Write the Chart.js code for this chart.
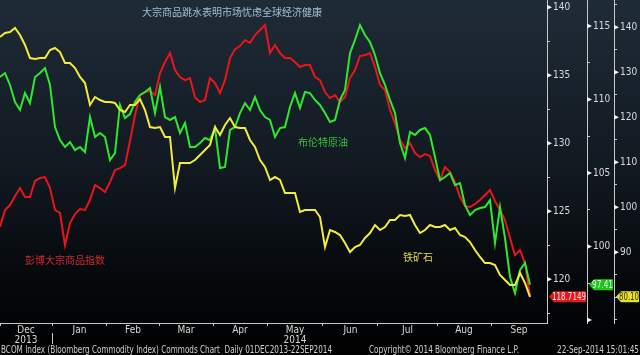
<!DOCTYPE html>
<html>
<head>
<meta charset="utf-8">
<script src="https://cdn.jsdelivr.net/npm/chart.js@4/dist/chart.umd.min.js"></script>
<style>
html,body{margin:0;padding:0;background:#000;}
canvas{display:block;}
</style>
</head>
<body>
<canvas id="c" width="640" height="355" style="width:640px;height:355px"></canvas>
<script>
// Samples: one value every two trading sessions, 2 Dec 2013 - 22 Sep 2014
const bcom = [123.85,125.10,125.46,126.13,126.71,126.05,126.05,127.23,127.45,127.52,
126.71,125.10,124.88,122.52,124.14,124.80,125.17,125.10,125.83,126.93,
126.71,126.42,127.15,128.04,128.18,128.40,130.17,132.08,133.55,133.77,
133.85,133.55,135.17,135.98,136.64,135.39,134.88,134.65,134.80,133.40,
133.04,133.18,134.80,134.43,133.70,134.65,136.27,136.93,137.15,137.60,
137.38,137.96,138.33,138.70,136.64,137.23,136.64,136.27,136.27,135.98,
135.61,135.76,135.76,134.88,134.65,133.77,133.33,133.55,133.04,133.40,
134.80,135.39,136.42,136.49,136.64,135.61,134.29,133.92,132.45,131.49,
130.24,129.65,130.02,129.29,128.99,129.21,129.07,128.04,127.30,128.26,
127.89,127.15,126.05,125.39,125.32,125.54,125.83,126.20,126.57,125.76,
125.10,124.36,123.04,121.79,122.15,121.20,118.7149];

const brent = [111.53,111.80,110.99,109.83,109.29,110.44,109.76,111.53,111.80,112.14,
110.99,108.13,107.24,106.77,107.11,106.56,106.77,106.43,108.81,107.45,
107.72,107.45,105.88,106.36,109.63,108.74,109.01,109.83,110.31,110.51,
110.78,109.08,110.85,108.81,108.61,108.81,107.72,108.40,106.77,106.77,
107.04,107.38,107.24,108.06,105.34,105.41,107.93,108.13,109.08,109.76,
109.29,110.17,109.29,108.81,108.61,107.45,108.06,108.13,109.49,110.44,
109.42,110.51,110.44,109.97,109.63,109.08,108.47,108.61,109.97,110.65,
113.16,114.05,115.07,114.39,113.91,113.03,111.80,110.99,109.97,109.08,
107.04,106.02,107.79,107.59,107.93,108.06,107.59,106.09,104.52,104.73,
105.00,104.18,104.32,102.82,102.14,102.48,102.62,102.69,103.16,100.24,
102.69,100.58,97.93,96.84,98.40,98.88,97.41];

const ironOre = [137.84,138.73,138.96,139.84,138.29,136.07,133.18,132.96,133.18,133.18,
134.96,135.40,134.51,132.07,132.07,130.96,128.96,127.62,122.73,124.51,
123.84,123.40,123.40,123.18,121.62,121.18,122.73,122.73,124.07,121.62,
117.84,117.62,117.84,115.62,115.62,104.29,109.84,109.84,109.84,110.51,
111.62,112.73,113.84,117.84,116.07,118.29,119.84,117.84,117.62,117.62,
114.96,113.40,110.51,108.96,106.07,106.73,106.07,103.18,103.18,103.18,
98.96,99.40,99.40,99.40,97.84,91.18,94.96,94.51,93.84,92.07,
90.07,91.18,91.62,93.18,94.29,96.07,94.96,95.62,97.18,97.18,
98.29,98.07,98.29,96.07,94.29,94.96,96.07,95.62,95.62,96.07,
94.96,95.40,93.84,93.40,92.29,90.51,88.96,87.62,87.62,87.18,
84.96,83.84,82.73,82.73,85.40,83.18,80.10];

// x-axis: month names, month start positions (in sample units), year labels
const monthNames = ['Dec','Jan','Feb','Mar','Apr','May','Jun','Jul','Aug','Sep'];
const monthStarts = [0,10.4,21.4,31.8,42.6,53.4,64.6,75.6,87.4,98.2];
const xEnd = 109.4;
const yearNames = ['2013','2014'];
const yearMonthIdx = [0,5];

// y-axes tick labels
const bcomLabels = [120,125,130,135,140];
const brentLabels = [100,105,110,115];
const brentMarks = [95,100,105,110,115];
const ironLabels = [90,100,110,120,130,140];

const titleText = '大宗商品跳水表明市场忧虑全球经济健康';
const bcomName = '彭博大宗商品指数';
const brentName = '布伦特原油';
const ironName = '铁矿石';
const footerLeft = 'BCOM Index (Bloomberg Commodity Index) Commods Chart  Daily 01DEC2013-22SEP2014';
const footerMid = 'Copyright\u00A9 2014 Bloomberg Finance L.P.';
const footerRight = '22-Sep-2014 15:01:45';

const NARROW = "'Liberation Sans Narrow','DejaVu Sans Condensed','Liberation Sans',sans-serif";
const CJK = "'Noto Sans CJK SC','Noto Sans CJK TC',sans-serif";

const monthCenters = monthStarts.map((s,i)=> (s + (i+1<monthStarts.length ? monthStarts[i+1] : xEnd))/2);

function pts(arr){ return arr.map((v,i)=>({x:i,y:v})); }

function yAxis(min,max,minor,labels,width){
  return {
    type:'linear', position:'right', min:min, max:max,
    afterBuildTicks(s){
      const t=[]; const k0=Math.ceil(min/minor-1e-9);
      for(let k=k0; k*minor<=max+1e-9; k++) t.push({value: Math.round(k*minor*100)/100});
      s.ticks=t;
    },
    afterFit(s){ s.width=width; s.paddingTop=0; s.paddingBottom=0; },
    grid:{drawOnChartArea:false, drawTicks:true, tickLength:3, color:'#c8c8c8', lineWidth:1},
    border:{display:true, color:'#c8c8c8', width:1},
    ticks:{autoSkip:false, padding:3, color:'#d8d8d8', font:{family:NARROW,size:10},
      callback:(v)=> labels.indexOf(Math.round(v*100)/100)>=0 ? String(v) : ''}
  };
}

const deco = {
  id:'deco',
  beforeDraw(chart){
    const {ctx,width,height}=chart;
    const g=ctx.createLinearGradient(0,0,0,height);
    g.addColorStop(0,'#1f2b37');
    g.addColorStop(0.45,'#121a22');
    g.addColorStop(0.8,'#05080b');
    g.addColorStop(1,'#000000');
    ctx.save(); ctx.fillStyle=g; ctx.fillRect(0,0,width,height); ctx.restore();
  },
  afterDraw(chart){
    const ctx=chart.ctx; const sc=chart.scales;
    ctx.save();
    function marks(scale, vals){
      ctx.fillStyle='#f0f0f0';
      vals.forEach(v=>{
        const y=scale.getPixelForValue(v); const x=scale.left;
        ctx.beginPath(); ctx.moveTo(x,y-2.5); ctx.lineTo(x+5,y); ctx.lineTo(x,y+2.5); ctx.closePath(); ctx.fill();
      });
    }
    marks(sc.yBcom,bcomLabels); marks(sc.yBrent,brentMarks); marks(sc.yIron,ironLabels);
    const xs=sc.x; const xb=Math.round(xs.getPixelForValue(monthStarts[1]))+0.5;
    ctx.strokeStyle='#c8c8c8'; ctx.lineWidth=1;
    ctx.beginPath(); ctx.moveTo(xb,333); ctx.lineTo(xb,344); ctx.stroke();
    function tag(scale,value,text,fill,tc){
      const y=scale.getPixelForValue(value); const l=scale.left+2, r=scale.right-1, h=11;
      ctx.fillStyle=fill; ctx.beginPath();
      ctx.moveTo(l,y); ctx.lineTo(l+5,y-h/2); ctx.lineTo(r,y-h/2); ctx.lineTo(r,y+h/2); ctx.lineTo(l+5,y+h/2); ctx.closePath(); ctx.fill();
      ctx.fillStyle=tc; ctx.font='10px '+NARROW; ctx.textAlign='center'; ctx.textBaseline='middle';
      ctx.fillText(text,(l+3+r)/2,y+0.5,r-l-3);
    }
    tag(sc.yBcom,bcom[bcom.length-1],bcom[bcom.length-1].toFixed(4),'#e0191b','#ffe4e4');
    tag(sc.yBrent,brent[brent.length-1],brent[brent.length-1].toFixed(2),'#1fc41f','#e4ffe4');
    tag(sc.yIron,ironOre[ironOre.length-1],ironOre[ironOre.length-1].toFixed(2),'#e6e02a','#3a3500');
    ctx.textAlign='left'; ctx.textBaseline='middle';
    ctx.font='10px '+CJK;
    ctx.fillStyle='#9fc0d2'; ctx.fillText(titleText,142,12.5);
    ctx.fillStyle='#d42a2a'; ctx.fillText(bcomName,25,260);
    ctx.fillStyle='#3cbf3c'; ctx.fillText(brentName,298,142);
    ctx.fillStyle='#e4da48'; ctx.fillText(ironName,403,257);
    ctx.font='10px '+NARROW; ctx.fillStyle='#d0d0d0';
    ctx.fillText(footerLeft,1,350,331);
    ctx.fillText(footerMid,369,350,150);
    ctx.fillText(footerRight,557,350,82);
    ctx.restore();
  }
};

const xTicks = monthStarts.map(v=>({value:v,kind:'b'})).concat(monthCenters.map((v,i)=>({value:v,kind:'c',i:i})));
xTicks.sort((a,b)=>a.value-b.value);

new Chart(document.getElementById('c'),{
  type:'line',
  data:{datasets:[
    {label:'Iron ore',data:pts(ironOre),yAxisID:'yIron',borderColor:'#f2ec3a',borderWidth:2,pointRadius:0,tension:0},
    {label:'Brent',data:pts(brent),yAxisID:'yBrent',borderColor:'#2ee82e',borderWidth:2,pointRadius:0,tension:0},
    {label:'BCOM',data:pts(bcom),yAxisID:'yBcom',borderColor:'#e8161b',borderWidth:2,pointRadius:0,tension:0}
  ]},
  options:{
    responsive:false, animation:false, devicePixelRatio:1,
    layout:{padding:{left:0,right:0,top:0,bottom:10}},
    plugins:{legend:{display:false},tooltip:{enabled:false}},
    scales:{
      x:{type:'linear',position:'bottom',min:0,max:xEnd,
        afterBuildTicks(s){ s.ticks=xTicks.map(t=>({value:t.value})); },
        afterFit(s){ s.height=22; s.paddingLeft=0; s.paddingRight=0; },
        grid:{drawOnChartArea:false,tickLength:3,
          color:(c)=>{ const t=xTicks[c.index]; return t&&t.kind==='b'?'#c8c8c8':'rgba(0,0,0,0)'; }},
        border:{display:true,color:'#c8c8c8',width:1},
        ticks:{autoSkip:false,maxRotation:0,minRotation:0,padding:-1,color:'#d8d8d8',
          font:{family:NARROW,size:10,lineHeight:1.0},
          callback:(v,idx)=>{ const t=xTicks[idx]; if(!t||t.kind!=='c') return '';
            const yi=yearMonthIdx.indexOf(t.i); return yi>=0?[monthNames[t.i],yearNames[yi]]:monthNames[t.i]; }}
      },
      yBcom: yAxis(116.79,140.54,2.5,bcomLabels,40),
      yBrent: yAxis(94.80,116.77,2.5,brentLabels,27),
      yIron: yAxis(74.29,146.07,5,ironLabels,26)
    }
  },
  plugins:[deco]
});
</script>
</body>
</html>
